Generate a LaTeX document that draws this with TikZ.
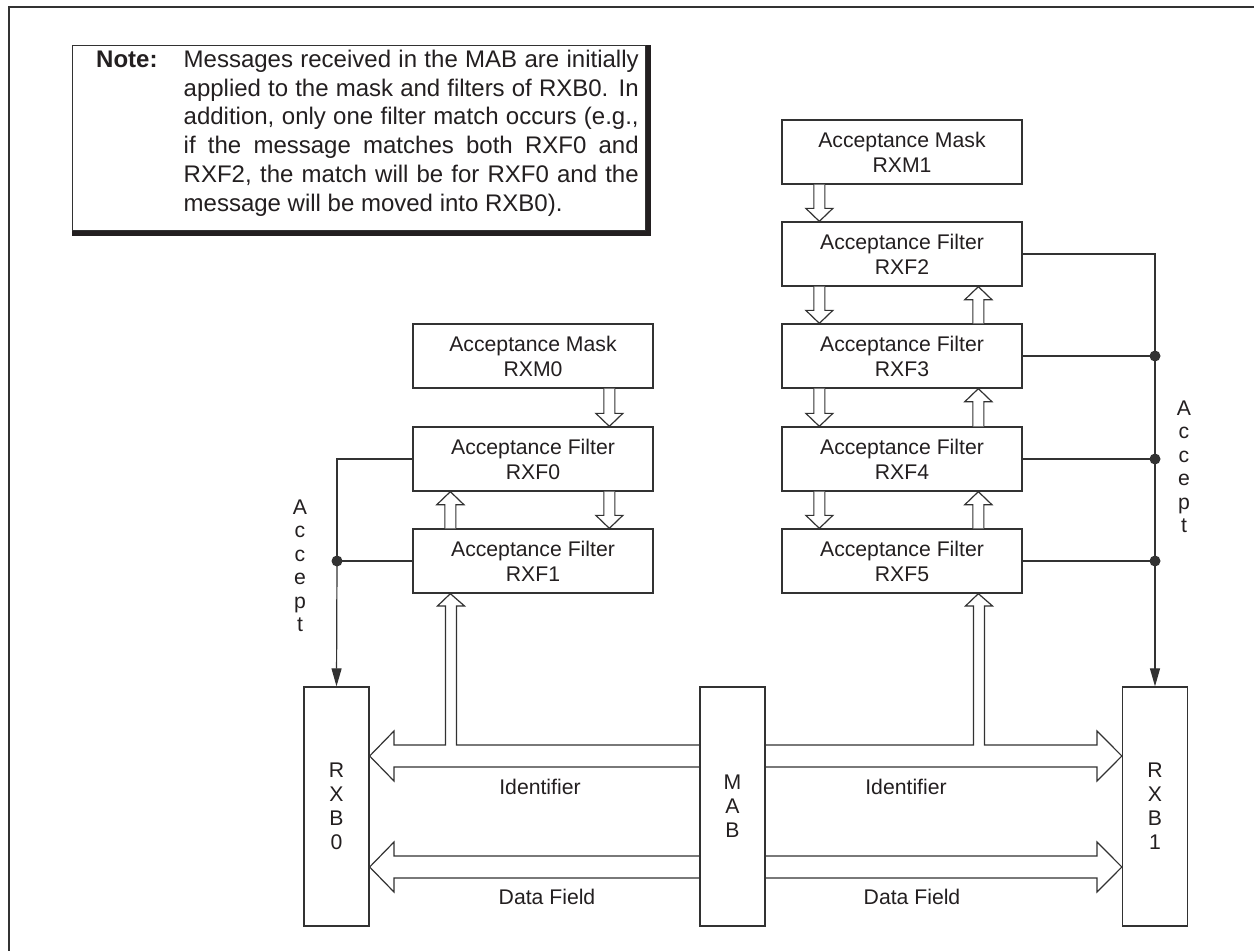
\documentclass[tikz,border=0pt]{standalone}
\usepackage{fontspec}
\setmainfont{Liberation Sans}
\usetikzlibrary{calc,arrows.meta}
\definecolor{ln}{RGB}{50,50,50}
\definecolor{tx}{RGB}{35,31,32}
\newcommand\hDown[3]{\draw[hol] let \p1=($(#1.south west)+(#3,0)$), \p2=($(#2.north west)+(#3,0)$) in
  (\x1-5.5pt,\y1) -- (\x1-5.5pt,\y2+13pt) -- (\x1-13.5pt,\y2+13pt) -- (\x2,\y2) -- (\x1+13.5pt,\y2+13pt) -- (\x1+5.5pt,\y2+13pt) -- (\x1+5.5pt,\y1);}
\newcommand\hUp[3]{\draw[hol] let \p1=($(#1.north west)+(#3,0)$), \p2=($(#2.south west)+(#3,0)$) in
  (\x1-5.5pt,\y1) -- (\x1-5.5pt,\y2-13pt) -- (\x1-13.5pt,\y2-13pt) -- (\x2,\y2) -- (\x1+13.5pt,\y2-13pt) -- (\x1+5.5pt,\y2-13pt) -- (\x1+5.5pt,\y1);}
\begin{document}
\begin{tikzpicture}[x=1pt,y=-1pt,
  every node/.style={text=tx},
  fbox/.style={draw=ln, line width=1.3pt, fill=white, minimum width=240pt, minimum height=64pt, inner sep=0pt, align=center, font=\fontsize{21.2}{25}\selectfont},
  tallbox/.style={draw=ln, line width=1.3pt, minimum width=65pt, minimum height=239pt, inner sep=0pt, align=center, font=\fontsize{21.2}{24}\selectfont},
  hol/.style={draw=ln, line width=1.2pt, fill=white, line join=miter},
  bus/.style={draw=ln, line width=1.2pt, line join=miter},
  wire/.style={draw=ln, line width=1.2pt},
  lbl/.style={font=\fontsize{21.2}{25}\selectfont, inner sep=0pt},
  vlbl/.style={font=\fontsize{21.2}{23.5}\selectfont, align=center, inner sep=0pt},
  dotc/.style={circle, fill=ln, inner sep=0pt, minimum size=11pt},
  acc/.style={wire, -{Triangle[length=18pt,width=10pt]}},
]
\useasboundingbox (0,0) rectangle (1254,951);
\fill[white] (0,0) rectangle (1254,951);
% outer frame (only top and left visible)
\draw[ln, line width=1.2pt] (9,951) -- (9,7) -- (1254,7);

% note box
\node[draw=ln, line width=1.2pt, minimum width=573.5pt, minimum height=185pt, inner sep=0pt, anchor=north west] (notebox) at (71.5,45) {};
\fill[tx] ($(notebox.north east)+(0,0)$) rectangle ($(notebox.south east)+(5,5)$);
\fill[tx] ($(notebox.south west)$) rectangle ($(notebox.south east)+(5,5)$);
\node[anchor=base west, inner sep=0pt, font=\fontsize{24}{28.8}\selectfont\bfseries] (notelbl) at (96,67.3) {Note:};
\node[anchor=base west, inner sep=0pt] (notetxt) at (183.5,67.3) {\parbox[t]{455pt}{\fontsize{24}{28.8}\selectfont\raggedright
\makebox[455pt][s]{Messages received in the MAB are initially}\\
\makebox[455pt][s]{applied to the mask and filters of RXB0. In}\\
\makebox[455pt][s]{addition, only one filter match occurs (e.g.,}\\
\makebox[455pt][s]{if the message matches both RXF0 and}\\
\makebox[455pt][s]{RXF2, the match will be for RXF0 and the}\\
message will be moved into RXB0).}};

% left stack
\node[fbox] (rxm0) at (533,356) {Acceptance Mask\\RXM0};
\node[fbox] (rxf0) at (533,459) {Acceptance Filter\\RXF0};
\node[fbox] (rxf1) at (533,561) {Acceptance Filter\\RXF1};
% right stack
\node[fbox] (rxm1) at (902,152) {Acceptance Mask\\RXM1};
\node[fbox] (rxf2) at (902,254) {Acceptance Filter\\RXF2};
\node[fbox] (rxf3) at (902,356) {Acceptance Filter\\RXF3};
\node[fbox] (rxf4) at (902,459) {Acceptance Filter\\RXF4};
\node[fbox] (rxf5) at (902,561) {Acceptance Filter\\RXF5};

% buffers
\node[tallbox] (rxb0) at (336.5,806.5) {R\\X\\B\\0};
\node[tallbox] (mab) at (732.5,806.5) {M\\A\\B};
\node[tallbox] (rxb1) at (1155,806.5) {R\\X\\B\\1};

% chain arrows
\hDown{rxm0}{rxf0}{197}
\hDown{rxf0}{rxf1}{197}
\hUp{rxf1}{rxf0}{38}
\hDown{rxm1}{rxf2}{38}
\hDown{rxf2}{rxf3}{38}
\hDown{rxf3}{rxf4}{38}
\hDown{rxf4}{rxf5}{38}
\hUp{rxf3}{rxf2}{197}
\hUp{rxf4}{rxf3}{197}
\hUp{rxf5}{rxf4}{197}

% accept wiring left
\coordinate (cornL) at (337,459);
\node[dotc] (dotL) at (337,561) {};
\draw[wire] (rxf0.west) -- (cornL) -- (dotL.center);
\draw[acc] (dotL.center) -- (rxb0.north);
\draw[wire] (rxf1.west) -- (dotL.center);
\node[vlbl] (accL) at (300,566) {A\\c\\c\\e\\p\\t};

% accept wiring right
\coordinate (cornR) at (1155,254);
\node[dotc] (dot3) at (1155,356) {};
\node[dotc] (dot4) at (1155,459) {};
\node[dotc] (dot5) at (1155,561) {};
\draw[wire] (rxf2.east) -- (cornR) -- (dot3.center) -- (dot4.center) -- (dot5.center);
\draw[acc] (dot5.center) -- (rxb1.north);
\draw[wire] (rxf3.east) -- (dot3.center);
\draw[wire] (rxf4.east) -- (dot4.center);
\draw[wire] (rxf5.east) -- (dot5.center);
\node[vlbl] (accR) at (1184,467) {A\\c\\c\\e\\p\\t};

% bus levels
\coordinate (yIu) at (0,745);
\coordinate (yIt) at (0,756);
\coordinate (yId) at (0,767);
\coordinate (yDu) at (0,856);
\coordinate (yDt) at (0,867);
\coordinate (yDd) at (0,878);
\coordinate (tipL) at ($(rxf1.south west)+(38,0)$);
\coordinate (tipR) at ($(rxf5.south west)+(197,0)$);

% identifier buses
\draw[bus] (mab.west |- yIu) -- (456.5,745) -- (456.5,606) -- (464.5,606) -- (tipL) -- (437.5,606) -- (445.5,606) -- (445.5,745)
  -- (394,745) -- (394,731) -- (rxb0.east |- yIt) -- (394,781) -- (394,767) -- (mab.west |- yId);
\draw[bus] (mab.east |- yIu) -- (973.5,745) -- (973.5,606) -- (965.5,606) -- (tipR) -- (992.5,606) -- (984.5,606) -- (984.5,745)
  -- (1097,745) -- (1097,731) -- (rxb1.west |- yIt) -- (1097,781) -- (1097,767) -- (mab.east |- yId);
% data buses
\draw[bus] (mab.west |- yDu) -- (394,856) -- (394,842) -- (rxb0.east |- yDt) -- (394,892) -- (394,878) -- (mab.west |- yDd);
\draw[bus] (mab.east |- yDu) -- (1097,856) -- (1097,842) -- (rxb1.west |- yDt) -- (1097,892) -- (1097,878) -- (mab.east |- yDd);

\node[lbl] (idL) at (540,787) {Identifier};
\node[lbl] (dfL) at (547,897) {Data Field};
\node[lbl] (idR) at (906,787) {Identifier};
\node[lbl] (dfR) at (912,897) {Data Field};
\end{tikzpicture}
\end{document}
